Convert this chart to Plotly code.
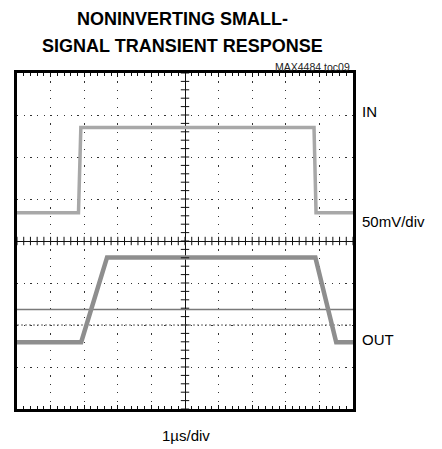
import numpy as np
import plotly.graph_objects as go

# Time axis in µs (1 µs/div), centred on screen; vertical in divisions from centre
in_t = [-5.0, -3.17, -3.10, 3.84, 3.90, 5.0]
in_v = [0.67, 0.67, 2.70, 2.70, 0.67, 0.67]

out_t = [-5.0, -3.09, -2.32, 3.88, 4.50, 5.0]
out_v = [-2.41, -2.41, -0.39, -0.39, -2.41, -2.41]

ref_level = -1.63
marker_level = -2.0

title_lines = ["NONINVERTING SMALL-", "SIGNAL TRANSIENT RESPONSE"]
tag = "MAX4484 toc09"
labels = {"in": "IN", "scale": "50mV/div", "out": "OUT", "time": "1µs/div"}

# page body has an 8px margin, so the figure is sized to fit inside the window
W, H = 434, 441
L, T = 9, 65
PW, PH = 336, 336
R, B = W - L - PW, H - T - PH

fig = go.Figure()

# dashed marker line
fig.add_trace(go.Scatter(x=[-5, 5], y=[marker_level, marker_level], mode="lines",
                         line=dict(color="#666", width=1, dash="2px,2px"),
                         hoverinfo="skip"))
# reference (ground) line
fig.add_trace(go.Scatter(x=[-5, 5], y=[ref_level, ref_level], mode="lines",
                         line=dict(color="#7a7a7a", width=1.5), hoverinfo="skip"))

# traces
fig.add_trace(go.Scatter(x=in_t, y=in_v, mode="lines",
                         line=dict(color="#a8a8a8", width=3.5), hoverinfo="skip"))
fig.add_trace(go.Scatter(x=out_t, y=out_v, mode="lines",
                         line=dict(color="#8e8e8e", width=4.5), hoverinfo="skip"))

# centre-axis minor ticks
hx = np.round(np.arange(-5, 5.001, 0.2), 3)
vy = np.round(np.arange(-4, 4.001, 0.2), 3)
fig.add_trace(go.Scatter(x=hx, y=np.zeros_like(hx), mode="markers",
                         marker=dict(symbol="line-ns", size=6,
                                     line=dict(color="#111", width=1)),
                         hoverinfo="skip"))
fig.add_trace(go.Scatter(x=np.zeros_like(vy), y=vy, mode="markers",
                         marker=dict(symbol="line-ew", size=6,
                                     line=dict(color="#111", width=1)),
                         hoverinfo="skip"))

fig.update_layout(
    width=W, height=H,
    margin=dict(l=L, r=R, t=T, b=B),
    paper_bgcolor="white", plot_bgcolor="white",
    showlegend=False,
    font=dict(family="Liberation Sans, Arial, sans-serif", color="black"),
)

fig.update_xaxes(range=[-5, 5], dtick=1, showticklabels=False,
                 showgrid=True, gridcolor="#333", gridwidth=1.2,
                 griddash="1.2px,7.2px",
                 zeroline=True, zerolinecolor="#111", zerolinewidth=1,
                 showline=True, linecolor="black", linewidth=2.5, mirror="ticks",
                 ticks="inside", ticklen=4, tickcolor="#111", tickwidth=1,
                 minor=dict(ticks="inside", dtick=0.2, ticklen=3,
                            tickcolor="#111", tickwidth=1, showgrid=False))
fig.update_yaxes(range=[-4, 4], dtick=1, showticklabels=False,
                 showgrid=True, gridcolor="#333", gridwidth=1.2,
                 griddash="1.2px,5.5px",
                 zeroline=True, zerolinecolor="#111", zerolinewidth=1,
                 showline=True, linecolor="black", linewidth=2.5, mirror=True,
                 ticks="")

title_font = dict(family="Liberation Sans, Arial", size=18, color="black")
fig.add_annotation(text="<b>%s</b>" % title_lines[0], xref="paper", yref="paper",
                   x=0.494, y=1.1607, xanchor="center", yanchor="middle",
                   showarrow=False, font=title_font)
fig.add_annotation(text="<b>%s</b>" % title_lines[1], xref="paper", yref="paper",
                   x=0.494, y=1.0804, xanchor="center", yanchor="middle",
                   showarrow=False, font=title_font)
fig.add_annotation(text=tag, xref="paper", yref="paper",
                   x=0.997, y=1.0179, xanchor="right", yanchor="middle",
                   showarrow=False, font=dict(size=10.5, color="#222"))
lab_font = dict(family="Liberation Sans, Arial", size=15, color="black")
for key, y in (("in", 0.8869), ("scale", 0.5595), ("out", 0.2054)):
    fig.add_annotation(text=labels[key], xref="paper", yref="paper",
                       x=1.021, y=y, xanchor="left", yanchor="middle",
                       showarrow=False, font=lab_font)
fig.add_annotation(text=labels["time"], xref="paper", yref="paper",
                   x=0.5015, y=-0.0774, xanchor="center", yanchor="middle",
                   showarrow=False, font=lab_font)

fig.write_html("out.html")
